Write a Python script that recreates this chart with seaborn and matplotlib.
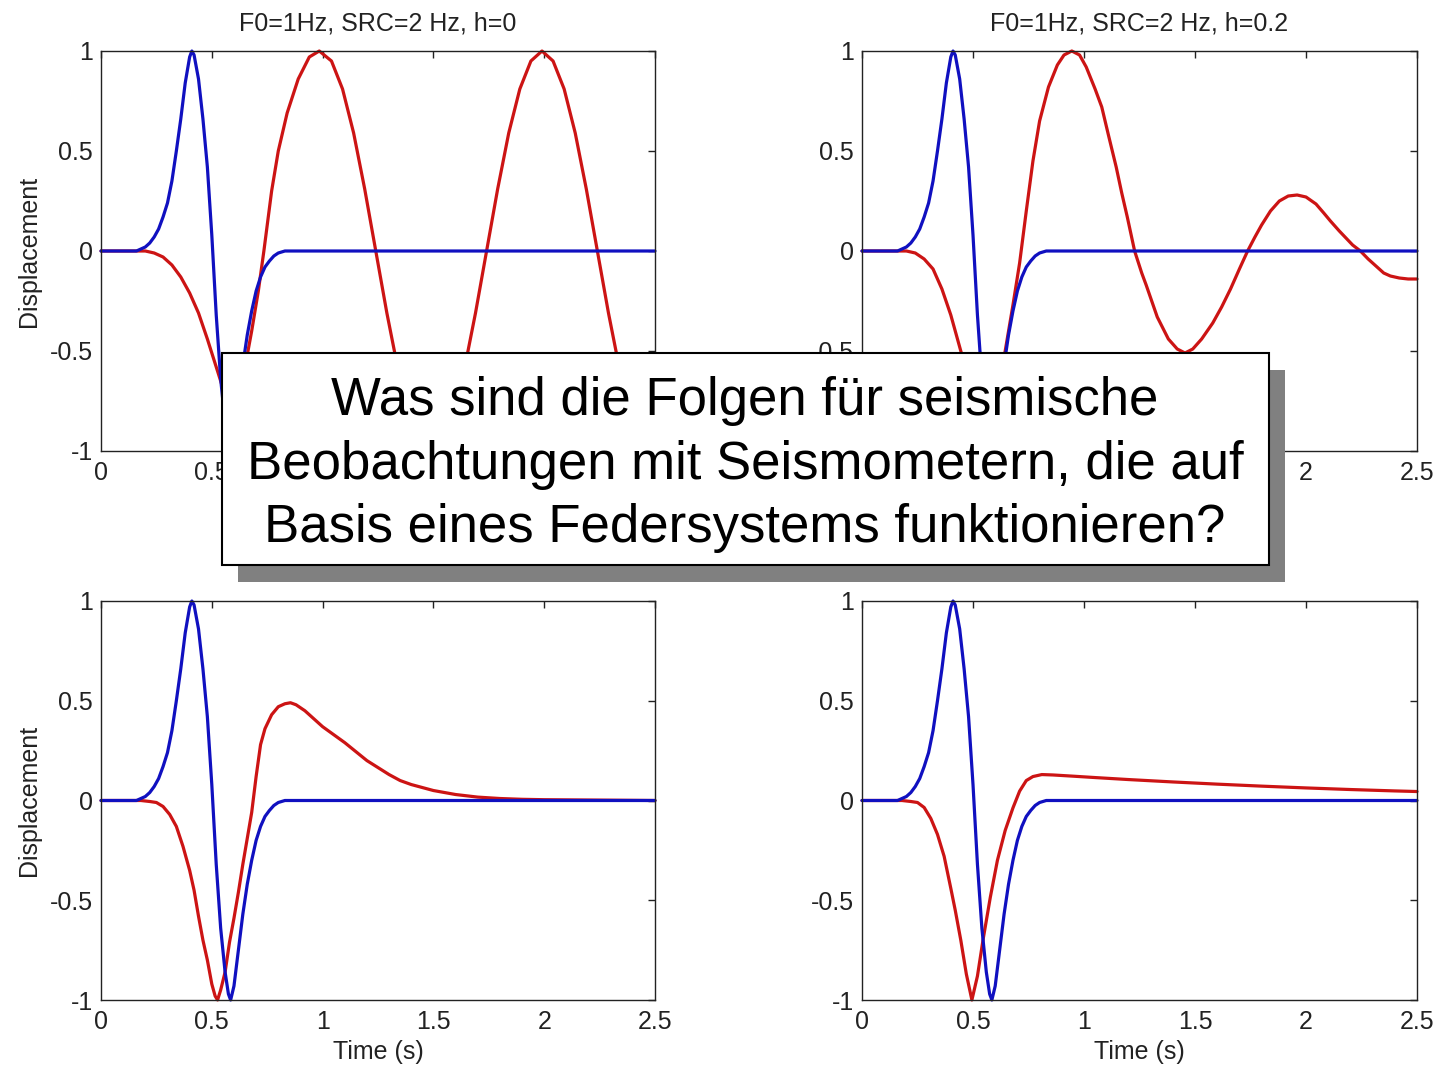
import matplotlib
matplotlib.use("Agg")
import matplotlib.pyplot as plt
from matplotlib.patches import Rectangle
import seaborn as sns

# ---- source pulse (ground motion), identical in every panel ----
t_src = [0, 0.16, 0.18, 0.20, 0.22, 0.24, 0.26, 0.28, 0.30, 0.32, 0.34, 0.36, 0.38,
         0.40, 0.41, 0.42, 0.44, 0.46, 0.48, 0.50, 0.52, 0.54, 0.56, 0.575, 0.585,
         0.60, 0.62, 0.64, 0.66, 0.68, 0.70, 0.72, 0.74, 0.76, 0.78, 0.80, 0.83, 2.5]
src = [0, 0, 0.01, 0.02, 0.04, 0.07, 0.11, 0.17, 0.24, 0.35, 0.50, 0.66, 0.84,
       0.97, 1.0, 0.98, 0.86, 0.66, 0.42, 0.08, -0.32, -0.64, -0.86, -0.97, -1.0,
       -0.93, -0.75, -0.57, -0.42, -0.30, -0.20, -0.13, -0.08, -0.05, -0.025, -0.01, 0, 0]

# ---- seismometer response, h = 0 ----
t_h0 = [0, 0.20, 0.24, 0.28, 0.32, 0.36, 0.40, 0.44, 0.48, 0.52, 0.56, 0.59, 0.62,
        0.65, 0.68, 0.71, 0.735, 0.77, 0.80, 0.84, 0.89, 0.94, 0.985, 1.04, 1.09,
        1.14, 1.19, 1.24, 1.29, 1.34, 1.39, 1.44, 1.49, 1.54, 1.59, 1.64, 1.69,
        1.74, 1.79, 1.84, 1.89, 1.94, 1.99, 2.04, 2.09, 2.14, 2.19, 2.24, 2.29,
        2.34, 2.39, 2.44, 2.49, 2.50]
resp_h0 = [0, 0, -0.01, -0.03, -0.07, -0.13, -0.21, -0.31, -0.44, -0.58, -0.72,
           -0.75, -0.70, -0.58, -0.40, -0.20, 0.0, 0.30, 0.50, 0.69, 0.86, 0.97,
           1.0, 0.95, 0.81, 0.59, 0.31, 0.0, -0.31, -0.59, -0.81, -0.95, -1.0,
           -0.95, -0.81, -0.59, -0.31, 0.0, 0.31, 0.59, 0.81, 0.95, 1.0, 0.95,
           0.81, 0.59, 0.31, 0.0, -0.31, -0.59, -0.81, -0.95, -1.0, -1.0]

# ---- seismometer response, h = 0.2 ----
t_h02 = [0, 0.20, 0.24, 0.28, 0.32, 0.36, 0.40, 0.44, 0.48, 0.52, 0.56, 0.60,
         0.645, 0.68, 0.71, 0.74, 0.77, 0.80, 0.84, 0.88, 0.91, 0.945, 0.98, 1.01,
         1.05, 1.08, 1.11, 1.145, 1.17, 1.195, 1.228, 1.26, 1.28, 1.33, 1.38, 1.42,
         1.455, 1.49, 1.53, 1.58, 1.62, 1.66, 1.70, 1.737, 1.77, 1.80, 1.84, 1.88,
         1.92, 1.96, 2.00, 2.045, 2.08, 2.11, 2.15, 2.18, 2.21, 2.245, 2.28, 2.31,
         2.35, 2.38, 2.42, 2.46, 2.50]
resp_h02 = [0, 0, -0.01, -0.04, -0.09, -0.19, -0.32, -0.48, -0.64, -0.77, -0.82,
            -0.75, -0.50, -0.27, -0.06, 0.20, 0.45, 0.65, 0.82, 0.93, 0.98, 1.0,
            0.98, 0.92, 0.81, 0.72, 0.58, 0.42, 0.29, 0.17, 0.0, -0.11, -0.17,
            -0.33, -0.44, -0.49, -0.51, -0.49, -0.44, -0.36, -0.28, -0.19, -0.09,
            0.0, 0.07, 0.13, 0.20, 0.25, 0.275, 0.28, 0.27, 0.235, 0.19, 0.15,
            0.10, 0.065, 0.03, 0.0, -0.04, -0.07, -0.11, -0.125, -0.135, -0.14, -0.14]

# ---- seismometer response, h = 1 ----
t_h1 = [0, 0.18, 0.22, 0.25, 0.28, 0.31, 0.34, 0.37, 0.40, 0.42, 0.44, 0.46, 0.48,
        0.50, 0.515, 0.526, 0.54, 0.56, 0.58, 0.60, 0.62, 0.64, 0.66, 0.68, 0.70,
        0.72, 0.74, 0.77, 0.80, 0.83, 0.855, 0.88, 0.92, 0.96, 1.00, 1.05, 1.10,
        1.15, 1.20, 1.25, 1.30, 1.35, 1.40, 1.50, 1.60, 1.70, 1.80, 1.90, 2.00, 2.50]
resp_h1 = [0, 0, -0.005, -0.01, -0.03, -0.07, -0.13, -0.23, -0.35, -0.45, -0.58,
           -0.70, -0.80, -0.92, -0.98, -1.0, -0.95, -0.86, -0.71, -0.59, -0.46,
           -0.32, -0.19, -0.06, 0.12, 0.28, 0.36, 0.43, 0.47, 0.485, 0.49, 0.48,
           0.45, 0.41, 0.37, 0.33, 0.29, 0.245, 0.20, 0.165, 0.13, 0.10, 0.08,
           0.05, 0.03, 0.017, 0.01, 0.006, 0.004, 0.0]

# ---- seismometer response, h = 5 ----
t_h5 = [0, 0.18, 0.22, 0.25, 0.28, 0.31, 0.34, 0.37, 0.40, 0.42, 0.445, 0.47,
        0.495, 0.52, 0.545, 0.578, 0.61, 0.645, 0.68, 0.71, 0.74, 0.77, 0.81,
        0.86, 0.95, 1.05, 1.20, 1.40, 1.60, 1.80, 2.00, 2.20, 2.40, 2.50]
resp_h5 = [0, 0, -0.005, -0.01, -0.035, -0.09, -0.17, -0.28, -0.44, -0.55, -0.70,
           -0.87, -1.0, -0.88, -0.70, -0.485, -0.30, -0.15, -0.037, 0.047, 0.10,
           0.12, 0.13, 0.128, 0.122, 0.115, 0.105, 0.093, 0.082, 0.072, 0.063,
           0.055, 0.048, 0.045]

titles = ["F0=1Hz, SRC=2 Hz, h=0", "F0=1Hz, SRC=2 Hz, h=0.2", "", ""]
x_ticks = [0, 0.5, 1, 1.5, 2, 2.5]
x_ticklabels = ["0", "0.5", "1", "1.5", "2", "2.5"]
y_ticks = [-1, -0.5, 0, 0.5, 1]
y_ticklabels = ["-1", "-0.5", "0", "0.5", "1"]
# upper panels: labels sitting under the question box are left blank
x_ticklabels_upper = [["0", "0.5", "", "", "", ""],
                      ["", "", "", "", "2", "2.5"]]
y_ticklabels_upper = [["-1", "-0.5", "0", "0.5", "1"],
                      ["", "-0.5", "0", "0.5", "1"]]
question = ["Was sind die Folgen für seismische",
            "Beobachtungen mit Seismometern, die auf",
            "Basis eines Federsystems funktionieren?"]

sns.set_style("white")
plt.rcParams["font.family"] = ["Liberation Sans", "DejaVu Sans"]

RED = "#cc1414"
BLUE = "#1010c0"
INK = "#222222"
W, H = 1440, 1071

fig = plt.figure(figsize=(W / 100, H / 100), dpi=100)
fig.patch.set_facecolor("white")

# axes boxes in pixels: (left, top, right, bottom)
boxes = [(101, 51, 655, 451), (862, 51, 1417, 451),
         (101, 601, 655, 1000), (862, 601, 1417, 1000)]
responses = [(t_h0, resp_h0), (t_h02, resp_h02), (t_h1, resp_h1), (t_h5, resp_h5)]

for i, ((l, t, r, b), (tr, rv)) in enumerate(zip(boxes, responses)):
    ax = fig.add_axes([l / W, 1 - b / H, (r - l) / W, (b - t) / H])
    sns.lineplot(x=tr, y=rv, ax=ax, color=RED, linewidth=2.3,
                 estimator=None, sort=False, clip_on=False)
    sns.lineplot(x=t_src, y=src, ax=ax, color=BLUE, linewidth=2.3,
                 estimator=None, sort=False, clip_on=False)
    ax.set_xlim(0, 2.5)
    ax.set_ylim(-1, 1)
    ax.set_xticks(x_ticks)
    ax.set_xticklabels(x_ticklabels_upper[i] if i < 2 else x_ticklabels)
    ax.set_yticks(y_ticks)
    ax.set_yticklabels(y_ticklabels_upper[i] if i < 2 else y_ticklabels)
    ax.tick_params(direction="in", length=5, width=1, top=True, right=True,
                   labelsize=18, colors=INK, labelcolor=INK)
    ax.tick_params(axis="x", pad=7)
    ax.tick_params(axis="y", pad=6)
    for sp in ax.spines.values():
        sp.set_visible(True)
        sp.set_color(INK)
        sp.set_linewidth(1.0)
    if titles[i]:
        ax.set_title(titles[i], fontsize=18, color=INK, pad=15)
    if i % 2 == 0:
        ax.set_ylabel("Displacement", fontsize=18, color=INK)
        ax.yaxis.set_label_coords(-0.108, 0.5)
    else:
        ax.set_ylabel("")
    if i >= 2:
        ax.set_xlabel("Time (s)", fontsize=18, color=INK)
        ax.xaxis.set_label_coords(0.5, -0.10)
    else:
        ax.set_xlabel("")

# question box with drop shadow
bx0, by0, bx1, by1 = 222, 353, 1269, 565
off_x, off_y = 16, 17
shadow = Rectangle(((bx0 + off_x) / W, 1 - (by1 + off_y) / H),
                   (bx1 - bx0) / W, (by1 - by0) / H,
                   transform=fig.transFigure, facecolor="#808080",
                   edgecolor="none", zorder=20)
box = Rectangle((bx0 / W, 1 - by1 / H), (bx1 - bx0) / W, (by1 - by0) / H,
                transform=fig.transFigure, facecolor="white",
                edgecolor="black", linewidth=1.5, zorder=21)
fig.add_artist(shadow)
fig.add_artist(box)

baselines = [415, 479, 542]
for line, yb in zip(question, baselines):
    fig.text(745 / W, 1 - yb / H, line, ha="center", va="baseline",
             fontsize=38, color="black", zorder=22)

fig.savefig("out.png", dpi=100, facecolor="white")
